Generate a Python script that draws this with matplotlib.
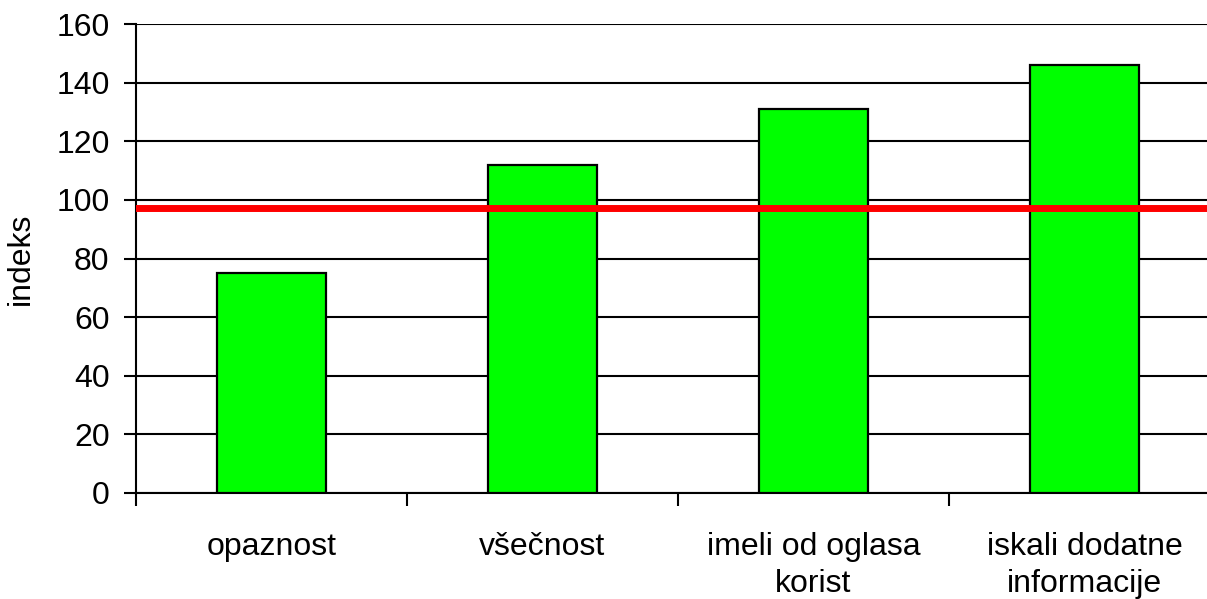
import matplotlib
matplotlib.use("Agg")
import matplotlib.pyplot as plt
import numpy as np

categories = ["opaznost", "všečnost", "imeli od oglasa\nkorist", "iskali dodatne\ninformacije"]
values = [75, 112, 131, 146]
reference_level = 97.3
yticks = [0, 20, 40, 60, 80, 100, 120, 140, 160]

plt.rcParams['font.family'] = ['Liberation Sans', 'DejaVu Sans']

W, H = 1207, 599
fig = plt.figure(figsize=(W/100, H/100), dpi=100)
left, right, top, bottom = 136, 1220, 24, 493
ax = fig.add_axes([left/W, 1-bottom/H, (right-left)/W, (bottom-top)/H])

x = np.arange(len(categories))
ax.bar(x, values, width=0.4, color='#00FF00', edgecolor='black', linewidth=1.6, zorder=3)
ax.axhline(reference_level, color='#FF0000', linewidth=5, zorder=4)

ax.set_xlim(-0.5, len(categories)-0.5)
ax.set_ylim(0, 160)
ax.set_yticks(yticks)
ax.yaxis.grid(True, color='black', linewidth=1.5, zorder=0)
ax.set_axisbelow(True)

ax.set_xticks(np.arange(len(categories)+1)-0.5, minor=False)
ax.set_xticklabels([])
ax.set_xticks(x, minor=True)
ax.set_xticklabels(categories, minor=True, fontsize=23, linespacing=1.32)
ax.tick_params(axis='x', which='major', length=9, width=1.5, direction='out')
ax.tick_params(axis='x', which='minor', length=0, pad=28)
ax.tick_params(axis='y', length=9, width=1.5, direction='out', labelsize=23, pad=10)

for s in ['top', 'right']:
    ax.spines[s].set_visible(False)
for s in ['left', 'bottom']:
    ax.spines[s].set_linewidth(1.5)

ax.set_ylabel("indeks", fontsize=23, labelpad=15)

fig.savefig("out.png", dpi=100)
